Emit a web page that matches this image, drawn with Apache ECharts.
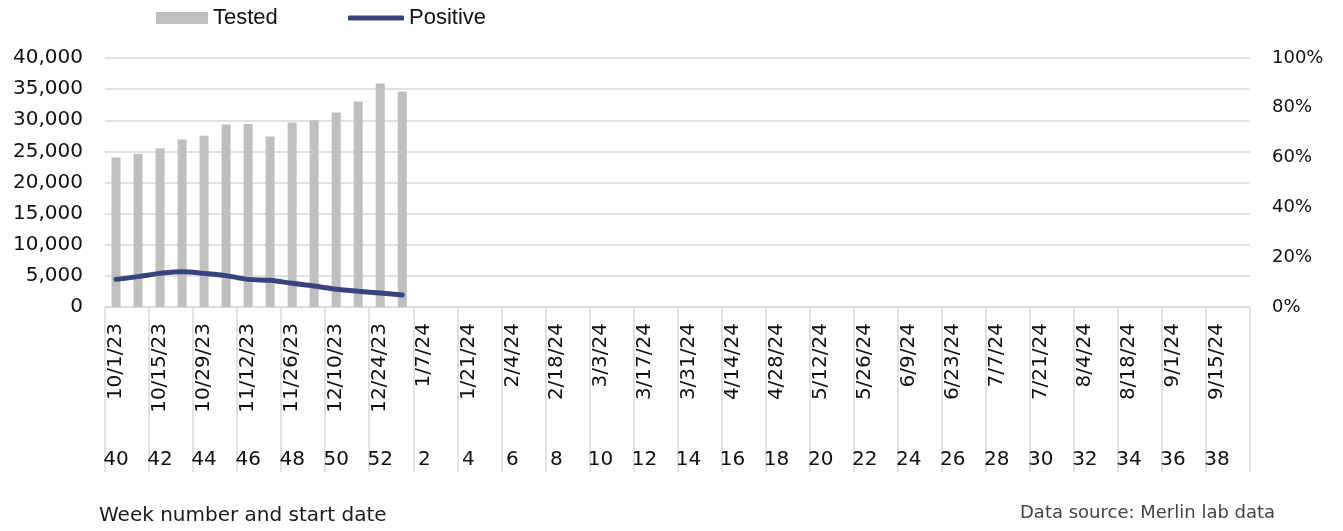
<!DOCTYPE html>
<html lang="en">
<head>
    <meta charset="UTF-8">
    <title>Tested and positive</title>
    <script src="https://cdn.jsdelivr.net/npm/echarts@6/dist/echarts.min.js"></script>
</head>
<body style="margin:0">
<div id="main" style="width:1343px;height:531px"></div>
<script type="text/javascript">
    // week start dates (category axis)
    var dates = ['10/1/23', '10/8/23', '10/15/23', '10/22/23', '10/29/23', '11/5/23', '11/12/23', '11/19/23',
        '11/26/23', '12/3/23', '12/10/23', '12/17/23', '12/24/23', '12/31/23', '1/7/24', '1/14/24',
        '1/21/24', '1/28/24', '2/4/24', '2/11/24', '2/18/24', '2/25/24', '3/3/24', '3/10/24',
        '3/17/24', '3/24/24', '3/31/24', '4/7/24', '4/14/24', '4/21/24', '4/28/24', '5/5/24',
        '5/12/24', '5/19/24', '5/26/24', '6/2/24', '6/9/24', '6/16/24', '6/23/24', '6/30/24',
        '7/7/24', '7/14/24', '7/21/24', '7/28/24', '8/4/24', '8/11/24', '8/18/24', '8/25/24',
        '9/1/24', '9/8/24', '9/15/24', '9/22/24'];
    // week numbers
    var weeks = ['40', '41', '42', '43', '44', '45', '46', '47', '48', '49', '50', '51', '52',
        '1', '2', '3', '4', '5', '6', '7', '8', '9', '10', '11', '12', '13', '14', '15', '16',
        '17', '18', '19', '20', '21', '22', '23', '24', '25', '26', '27', '28', '29', '30', '31',
        '32', '33', '34', '35', '36', '37', '38', '39'];
    // samples tested per week
    var tested = [24000, 24600, 25500, 26900, 27500, 29300, 29400, 27400, 29650, 30000, 31250, 33000, 35900, 34600];
    // share positive (0-1)
    var positive = [0.111, 0.122, 0.135, 0.142, 0.135, 0.126, 0.111, 0.107, 0.095, 0.084, 0.071, 0.063, 0.056, 0.048];

    var font = 'Liberation Sans, Arial, sans-serif';
    var wide = 'DejaVu Sans, sans-serif';
    var myChart = echarts.init(document.getElementById('main'));
    var option = {
        animation: false,
        textStyle: {fontFamily: font},
        legend: [
            {
                left: 151,
                top: 2,
                itemWidth: 52,
                itemHeight: 12,
                itemGap: 0,
                itemStyle: {borderWidth: 0},
                textStyle: {fontSize: 22, color: '#111', fontFamily: font},
                data: [{name: 'Tested', icon: 'rect'}]
            },
            {
                left: 343,
                top: 2,
                itemWidth: 56,
                itemHeight: 5,
                itemGap: 0,
                itemStyle: {borderWidth: 0},
                textStyle: {fontSize: 22, color: '#111', fontFamily: font},
                data: [{name: 'Positive', icon: 'roundRect'}]
            }
        ],
        grid: {left: 105, right: 93, top: 58, bottom: 224, containLabel: false},
        graphic: [
            {type: 'text', left: 99, top: 506, style: {text: 'Week number and start date', fontSize: 20, fill: '#1a1a1a', fontFamily: wide}},
            {type: 'text', left: 1020, top: 504, style: {text: 'Data source: Merlin lab data', fontSize: 18, fill: '#444', fontFamily: wide}}
        ],
        xAxis: [
            {
                type: 'category',
                data: dates,
                axisLine: {show: true, lineStyle: {color: '#d9d9d9', width: 1.5}},
                axisTick: {show: true, interval: 1, length: 165, lineStyle: {color: '#d9d9d9', width: 1.5}},
                axisLabel: {interval: 1, rotate: 90, margin: 16, fontSize: 20, color: '#111', fontFamily: wide}
            },
            {
                type: 'category',
                position: 'bottom',
                offset: 140,
                data: weeks,
                axisLine: {show: false},
                axisTick: {show: false},
                axisLabel: {interval: 1, margin: 3, fontSize: 20, color: '#111', fontFamily: wide}
            }
        ],
        yAxis: [
            {
                type: 'value',
                min: 0,
                max: 40000,
                interval: 5000,
                axisLine: {show: false},
                axisTick: {show: false},
                splitLine: {lineStyle: {color: '#d9d9d9', width: 1.5}},
                axisLabel: {
                    margin: 22, fontSize: 20, color: '#111', fontFamily: wide,
                    formatter: function (v) { return v.toLocaleString('en-US'); }
                }
            },
            {
                type: 'value',
                min: 0,
                max: 1,
                interval: 0.2,
                axisLine: {show: false},
                axisTick: {show: false},
                splitLine: {show: false},
                axisLabel: {
                    margin: 22, fontSize: 18, color: '#111', fontFamily: wide,
                    formatter: function (v) { return Math.round(v * 100) + '%'; }
                }
            }
        ],
        series: [
            {
                name: 'Tested',
                type: 'bar',
                data: tested,
                barWidth: 9,
                itemStyle: {color: '#bfbfbf'}
            },
            {
                name: 'Positive',
                type: 'line',
                yAxisIndex: 1,
                data: positive,
                smooth: 0.35,
                symbol: 'none',
                lineStyle: {color: '#37437e', width: 5, cap: 'round'},
                itemStyle: {color: '#37437e'}
            }
        ]
    };
    option && myChart.setOption(option);
</script>
</body>
</html>
